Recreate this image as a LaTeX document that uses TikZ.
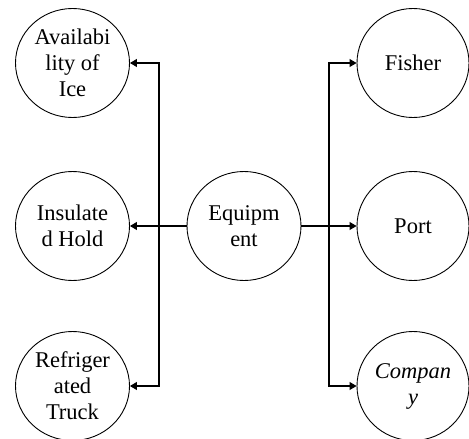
\documentclass[tikz,border=0pt]{standalone}
\usepackage{fontspec}
\setmainfont{Liberation Serif}
\usetikzlibrary{arrows.meta,shapes.geometric}
\begin{document}
\begin{tikzpicture}[x=1pt,y=-1pt,
  bubble/.style={draw,ellipse,line width=0.9pt,minimum width=114pt,minimum height=109pt,inner sep=0pt,align=center,
    font=\fontsize{22.5}{26}\selectfont},
  arr/.style={line width=1.1pt,-{Triangle[length=7pt,width=8pt]}},
  ln/.style={line width=1.1pt}]
\useasboundingbox (0,0) rectangle (469,439);
\node[bubble] (avail) at (72.5,63) {Availabi\\lity of\\Ice};
\node[bubble] (ins) at (72.5,226) {Insulate\\d Hold};
\node[bubble] (ref) at (72.5,386) {Refriger\\ated\\Truck};
\node[bubble] (eq) at (244,226) {Equipm\\ent};
\node[bubble,minimum width=112pt] (fish) at (413,63) {Fisher};
\node[bubble,minimum width=112pt] (port) at (413,226) {Port};
\node[bubble,minimum width=112pt] (comp) at (413,386) {\itshape Compan\\\itshape y};
\coordinate (jl) at (159,226);
\coordinate (jr) at (329,226);
\draw[arr] (eq.west) -- (ins.east);
\draw[arr] (jl) |- (avail.east);
\draw[arr] (jl) |- (ref.east);
\draw[arr] (eq.east) -- (port.west);
\draw[arr] (jr) |- (fish.west);
\draw[arr] (jr) |- (comp.west);
\end{tikzpicture}
\end{document}
